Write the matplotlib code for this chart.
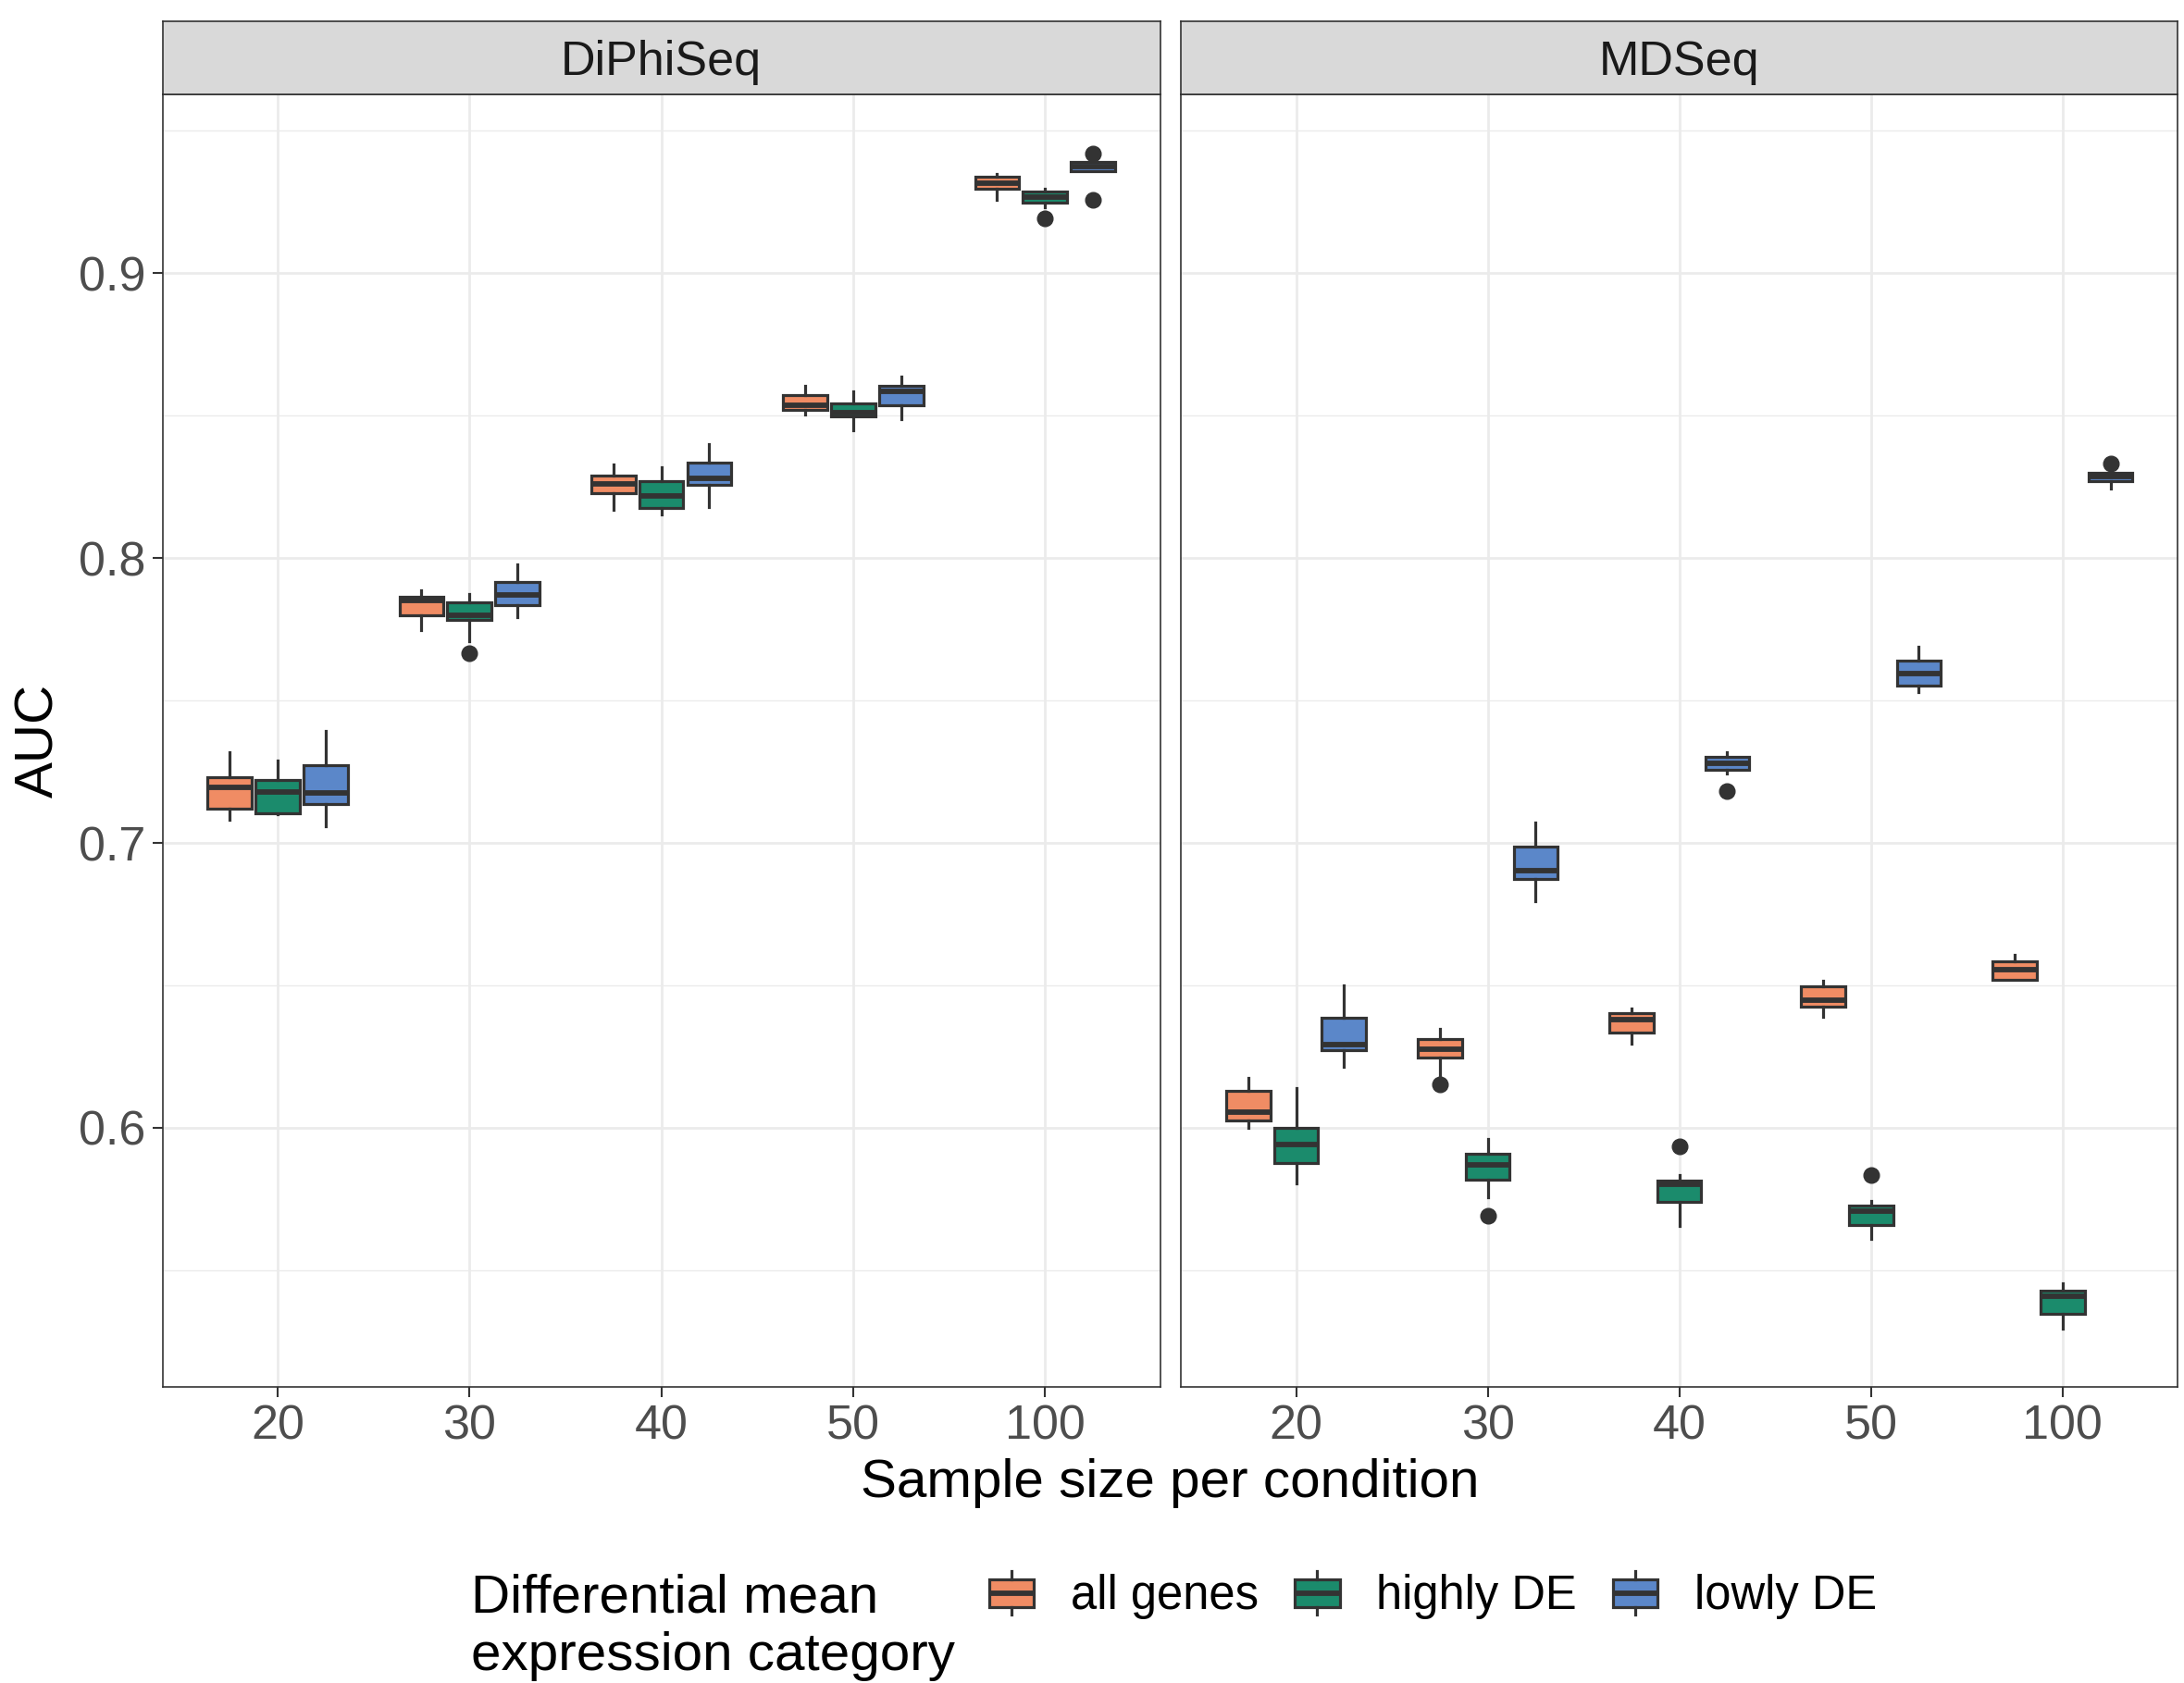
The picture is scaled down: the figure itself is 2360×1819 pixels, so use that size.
import matplotlib
matplotlib.use("Agg")
import matplotlib.pyplot as plt
from matplotlib.patches import Rectangle
from matplotlib.lines import Line2D
from matplotlib.legend_handler import HandlerBase

plt.rcParams['font.family'] = ['Liberation Sans', 'DejaVu Sans']

# ---------------------------------------------------------------- data
SAMPLE_SIZES = ["20", "30", "40", "50", "100"]
CATEGORIES = ["all genes", "highly DE", "lowly DE"]
METHODS = ["DiPhiSeq", "MDSeq"]

# per sample size: [lower whisker, Q1, median, Q3, upper whisker]
DIPHISEQ_ALL_GENES = [
    [0.7082, 0.7119, 0.7195, 0.7230, 0.7317],
    [0.7746, 0.7800, 0.7851, 0.7863, 0.7887],
    [0.8168, 0.8228, 0.8260, 0.8290, 0.8330],
    [0.8503, 0.8519, 0.8536, 0.8571, 0.8606],
    [0.9259, 0.9297, 0.9317, 0.9338, 0.9349],
]
DIPHISEQ_HIGHLY_DE = [
    [0.7100, 0.7103, 0.7180, 0.7220, 0.7290],
    [0.7709, 0.7784, 0.7800, 0.7844, 0.7873],
    [0.8154, 0.8177, 0.8219, 0.8269, 0.8320],
    [0.8449, 0.8498, 0.8511, 0.8544, 0.8586],
    [0.9232, 0.9248, 0.9267, 0.9286, 0.9297],
]
DIPHISEQ_LOWLY_DE = [
    [0.7057, 0.7135, 0.7177, 0.7274, 0.7394],
    [0.7793, 0.7836, 0.7871, 0.7917, 0.7977],
    [0.8179, 0.8257, 0.8280, 0.8334, 0.8399],
    [0.8487, 0.8536, 0.8586, 0.8606, 0.8638],
    [0.9360, 0.9360, 0.9375, 0.9391, 0.9391],
]
DIPHISEQ_ALL_GENES_OUTLIERS = [[], [], [], [], []]
DIPHISEQ_HIGHLY_DE_OUTLIERS = [[], [0.7667], [], [], [0.9194]]
DIPHISEQ_LOWLY_DE_OUTLIERS = [[], [], [], [], [0.9259, 0.9421]]

MDSEQ_ALL_GENES = [
    [0.5998, 0.6027, 0.6056, 0.6129, 0.6174],
    [0.6183, 0.6247, 0.6277, 0.6310, 0.6346],
    [0.6296, 0.6333, 0.6378, 0.6403, 0.6419],
    [0.6390, 0.6425, 0.6447, 0.6498, 0.6516],
    [0.6519, 0.6519, 0.6555, 0.6583, 0.6608],
]
MDSEQ_HIGHLY_DE = [
    [0.5804, 0.5876, 0.5941, 0.5998, 0.6140],
    [0.5756, 0.5817, 0.5871, 0.5909, 0.5962],
    [0.5654, 0.5739, 0.5800, 0.5814, 0.5833],
    [0.5608, 0.5658, 0.5708, 0.5727, 0.5743],
    [0.5296, 0.5345, 0.5407, 0.5427, 0.5452],
]
MDSEQ_LOWLY_DE = [
    [0.6215, 0.6271, 0.6293, 0.6385, 0.6500],
    [0.6796, 0.6872, 0.6902, 0.6986, 0.7073],
    [0.7245, 0.7258, 0.7278, 0.7303, 0.7320],
    [0.7528, 0.7552, 0.7595, 0.7639, 0.7688],
    [0.8245, 0.8271, 0.8286, 0.8299, 0.8305],
]
MDSEQ_ALL_GENES_OUTLIERS = [[], [0.6153], [], [], []]
MDSEQ_HIGHLY_DE_OUTLIERS = [[], [0.5691], [0.5935], [0.5833], []]
MDSEQ_LOWLY_DE_OUTLIERS = [[], [], [0.7181], [], [0.8333]]

Y_MAJOR = [0.6, 0.7, 0.8, 0.9]
Y_MINOR = [0.55, 0.65, 0.75, 0.85, 0.95]

# ---------------------------------------------------------------- style
COLORS = ["#F08C64", "#1B8B6C", "#5B87C9"]
EDGE = "#333333"
GRID = "#EBEBEB"
LW = 2.3           # outline width in points
MED_LW = 4.2       # median line width in points
TICK_FS = 37.5
LEGEND_FS = 36.5
TITLE_FS = 42

W, H, DPI = 2360, 1819, 100
fig = plt.figure(figsize=(W / DPI, H / DPI), dpi=DPI)
fig.patch.set_facecolor("white")


def px_rect(x0, y0, x1, y1):
    """Figure-fraction rectangle from pixel edges measured from the top-left."""
    return [x0 / W, 1 - y1 / H, (x1 - x0) / W, (y1 - y0) / H]


PANEL_TOP, PANEL_BOTTOM, STRIP_TOP = 102.3, 1499.0, 22.6
PANEL_X = [(175.6, 1253.6), (1276.3, 2353.0)]

panel_data = [
    [(DIPHISEQ_ALL_GENES, DIPHISEQ_ALL_GENES_OUTLIERS),
     (DIPHISEQ_HIGHLY_DE, DIPHISEQ_HIGHLY_DE_OUTLIERS),
     (DIPHISEQ_LOWLY_DE, DIPHISEQ_LOWLY_DE_OUTLIERS)],
    [(MDSEQ_ALL_GENES, MDSEQ_ALL_GENES_OUTLIERS),
     (MDSEQ_HIGHLY_DE, MDSEQ_HIGHLY_DE_OUTLIERS),
     (MDSEQ_LOWLY_DE, MDSEQ_LOWLY_DE_OUTLIERS)],
]

# shared y range with a 5% margin on each side
all_vals = []
for series in panel_data:
    for summ, outs in series:
        for row in summ:
            all_vals.extend(row)
        for o in outs:
            all_vals.extend(o)
lo, hi = min(all_vals), max(all_vals)
pad = 0.05 * (hi - lo)
YLIM = (lo - pad, hi + pad)

DODGE = 0.25
BOX_W = 0.23

for p, (method, series) in enumerate(zip(METHODS, panel_data)):
    x0, x1 = PANEL_X[p]
    ax = fig.add_axes(px_rect(x0, PANEL_TOP, x1, PANEL_BOTTOM))
    ax.set_xlim(-0.6, len(SAMPLE_SIZES) - 0.4)
    ax.set_ylim(*YLIM)
    ax.set_xticks(range(len(SAMPLE_SIZES)))
    ax.set_xticklabels(SAMPLE_SIZES)
    ax.set_yticks(Y_MAJOR)
    ax.set_yticklabels([f"{v:.1f}" for v in Y_MAJOR])
    ax.set_yticks(Y_MINOR, minor=True)
    ax.grid(which="major", color=GRID, lw=2.0)
    ax.grid(which="minor", axis="y", color=GRID, lw=1.0)
    ax.set_axisbelow(True)
    ax.tick_params(which="minor", length=0)
    ax.tick_params(which="major", length=8, width=1.5, color=EDGE,
                   labelsize=TICK_FS, labelcolor="#4D4D4D", pad=5)
    if p > 0:
        ax.tick_params(axis="y", left=False, labelleft=False)
    for s in ax.spines.values():
        s.set_color(EDGE)
        s.set_linewidth(1.2)

    for k, (summ, outs) in enumerate(series):
        stats = []
        for (wlo, q1, med, q3, whi), fl in zip(summ, outs):
            stats.append(dict(whislo=wlo, q1=q1, med=med, q3=q3, whishi=whi,
                              fliers=fl))
        pos = [i + (k - 1) * DODGE for i in range(len(SAMPLE_SIZES))]
        ax.bxp(stats, positions=pos, widths=BOX_W, patch_artist=True,
               showcaps=False, manage_ticks=False,
               boxprops=dict(facecolor=COLORS[k], edgecolor=EDGE, linewidth=LW),
               medianprops=dict(color=EDGE, linewidth=MED_LW, solid_capstyle="butt"),
               whiskerprops=dict(color=EDGE, linewidth=LW),
               flierprops=dict(marker="o", markersize=12, markerfacecolor=EDGE,
                               markeredgecolor=EDGE, linestyle="none"))

    # facet strip
    sax = fig.add_axes(px_rect(x0, STRIP_TOP, x1, PANEL_TOP))
    sax.set_facecolor("#D9D9D9")
    sax.set_xticks([])
    sax.set_yticks([])
    for s in sax.spines.values():
        s.set_color(EDGE)
        s.set_linewidth(1.2)
    sax.text(0.5, 0.5, method, ha="center", va="center_baseline",
             fontsize=TICK_FS, color="#1A1A1A", transform=sax.transAxes)

# axis titles
fig.text(42 / W, 1 - 800 / H, "AUC", rotation=90, ha="center", va="center",
         fontsize=TITLE_FS)
fig.text(1264 / W, 1 - 1618 / H, "Sample size per condition", ha="center",
         va="baseline", fontsize=TITLE_FS)


# legend with small boxplot keys
class BoxKeyHandler(HandlerBase):
    def create_artists(self, legend, orig_handle, xdescent, ydescent,
                       width, height, fontsize, trans):
        x0, y0 = -xdescent, -ydescent
        b0, b1 = y0 + 0.18 * height, y0 + 0.82 * height
        xc = x0 + width / 2
        box = Rectangle((x0, b0), width, b1 - b0,
                        facecolor=orig_handle.get_facecolor(),
                        edgecolor=EDGE, linewidth=LW, transform=trans)
        med = Line2D([x0, x0 + width], [(b0 + b1) / 2] * 2, color=EDGE,
                     lw=MED_LW, solid_capstyle="butt", transform=trans)
        wt = Line2D([xc, xc], [b1, y0 + height], color=EDGE, lw=LW,
                    transform=trans)
        wb = Line2D([xc, xc], [y0, b0], color=EDGE, lw=LW, transform=trans)
        return [box, med, wt, wb]


handles = [Rectangle((0, 0), 1, 1, facecolor=c) for c in COLORS]
fig.legend(handles, CATEGORIES, handler_map={Rectangle: BoxKeyHandler()},
           loc="center left", bbox_to_anchor=(1069 / W, 1 - 1724 / H),
           ncol=3, frameon=False, fontsize=LEGEND_FS, borderpad=0,
           borderaxespad=0, handlelength=0.95, handleheight=1.05,
           handletextpad=0.78, columnspacing=0.78)
fig.text(509 / W, 1 - 1742 / H, "Differential mean", ha="left",
         va="baseline", fontsize=TITLE_FS)
fig.text(509 / W, 1 - 1805 / H, "expression category", ha="left",
         va="baseline", fontsize=TITLE_FS)

fig.savefig("out.png", dpi=DPI, facecolor="white")
